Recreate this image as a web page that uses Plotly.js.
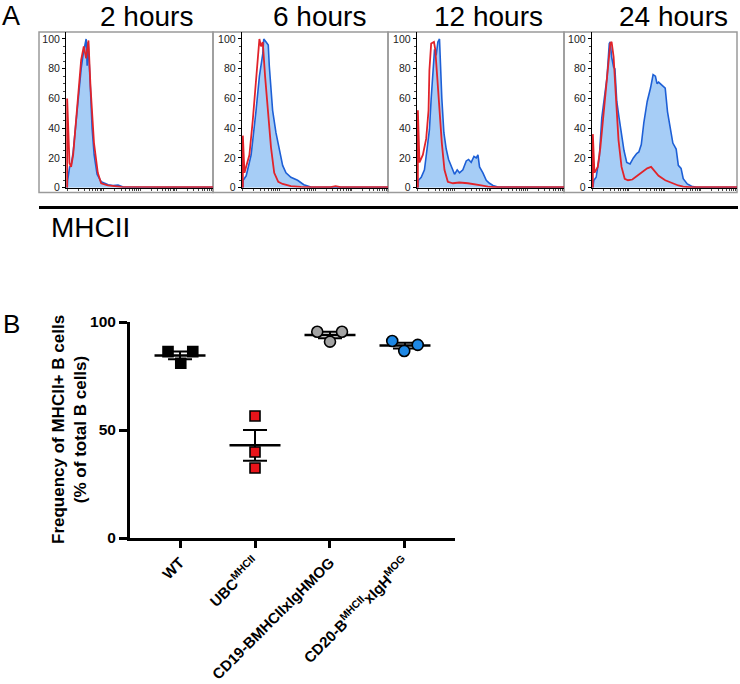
<!DOCTYPE html>
<html>
<head>
<meta charset="utf-8">
<script src="https://cdn.plot.ly/plotly-3.0.1.min.js"></script>
<style>html,body{margin:0;padding:0;background:#fff;}#chart{width:740px;height:684px;}</style>
</head>
<body>
<div id="chart"></div>
<script>
// ---------- Panel A data: MHCII histograms (x = relative fluorescence 0-100, y = % of max) ----------
const hourLabels = ['2 hours', '6 hours', '12 hours', '24 hours'];

const h2BlueX = [0, 0.3, 1.7, 2.7, 4.1, 6.2, 8.2, 9.6, 11.0, 12.3, 13.0, 13.7, 14.4, 15.8, 17.1, 18.5, 20.5, 23.3, 28.1, 31.5, 34.9, 38.4, 100];
const h2BlueY = [0, 5, 14, 15, 24, 45, 70, 80, 90, 97, 100, 82, 98, 70, 40, 22, 9, 4, 2, 1.5, 1.8, 0.5, 0.2];
const h2RedX  = [0, 0, 1.6, 2.7, 4.1, 6.2, 9.6, 11.4, 13.0, 14.6, 16.0, 18.4, 21.0, 23.3, 27.9, 37.0, 100];
const h2RedY  = [0, 60, 16.6, 14, 22, 47, 86, 95, 87, 99, 68, 30, 10, 3, 1.5, 0.5, 0.3];

const h6BlueX = [0, 0.2, 2.3, 5.7, 9.1, 11.4, 13.7, 14.4, 16.0, 17.5, 18.2, 19.4, 20.5, 22.8, 25.1, 27.4, 29.7, 33.1, 37.7, 42.0, 46.8, 100];
const h6BlueY = [0, 5, 8, 22, 52, 75, 90, 100, 98, 96, 82, 66, 52, 37, 26, 15, 10, 7, 5, 2, 0.5, 0.2];
const h6RedX  = [0, 0, 1.1, 4.5, 6.8, 9.1, 11.4, 12.5, 13.7, 15.3, 17.1, 19.4, 21.6, 24.4, 27.4, 33.1, 39.9, 60.5, 63.9, 67.3, 100];
const h6RedY  = [0, 35, 10, 22, 45, 72, 100, 95, 98, 75, 52, 27, 10, 4, 2.5, 1, 0.5, 0.3, 1, 0.3, 0.3];

const h12BlueX = [0, 0.4, 2.3, 4.5, 6.4, 7.9, 9.1, 10.3, 11.4, 12.5, 13.7, 14.8, 15.5, 16.4, 17.8, 19.4, 21.0, 22.8, 25.1, 26.9, 28.5, 30.8, 33.1, 34.7, 36.5, 38.4, 40.0, 41.1, 42.2, 44.5, 46.8, 49.0, 51.4, 54.8, 100];
const h12BlueY = [0, 5, 7, 12, 27, 39, 60, 78, 93, 89, 98, 100, 82, 60, 37, 26, 19, 15, 9, 12, 10, 12, 18, 19, 17, 21, 20, 22, 14, 10, 5, 3, 1.5, 0.5, 0.2];
const h12RedX  = [0, 0, 1.1, 3.4, 5.7, 7.3, 7.9, 9.1, 11.0, 11.9, 13.2, 14.8, 16.4, 18.2, 20.5, 24.0, 28.3, 34.2, 38.6, 43.4, 47.9, 53.6, 100];
const h12RedY  = [0, 52, 17, 22, 33, 52, 79, 97, 98, 93, 75, 52, 30, 12, 4, 3, 3.5, 3, 2.5, 1.5, 0.7, 0.3, 0.3];

const h24BlueX = [0, 0.7, 2.3, 4.5, 6.2, 8.0, 9.8, 11.4, 12.1, 13.0, 14.4, 15.3, 16.6, 18.2, 19.9, 21.6, 23.5, 25.8, 28.1, 30.4, 31.9, 33.6, 35.4, 37.7, 40.0, 41.8, 43.4, 44.5, 45.6, 48.0, 50.2, 51.8, 53.6, 55.5, 57.8, 59.3, 61.2, 62.7, 65.5, 68.5, 71.9, 100];
const h24BlueY = [0, 5, 7, 21, 47, 61, 74, 97, 98, 88, 81, 80, 58, 47, 36, 25, 17, 16, 20, 23, 24, 29, 44, 58, 67, 76, 75, 70, 71, 69, 67, 51, 42, 30, 26, 15, 13, 6, 2.5, 1, 0.3, 0.2];
const h24RedX  = [0, 0, 1.1, 3.4, 5.2, 6.8, 8.4, 10.3, 12.1, 13.0, 14.4, 16.0, 17.8, 19.9, 22.1, 24.4, 27.4, 30.8, 34.2, 37.7, 40.4, 42.2, 45.6, 50.2, 54.8, 59.3, 62.7, 67.3, 100];
const h24RedY  = [0, 36, 10, 14, 27, 43, 61, 83, 97, 98, 88, 61, 32, 14, 6, 5, 5.5, 8, 10.5, 13, 14, 12, 8, 5, 3, 1.5, 0.7, 0.3, 0.3];

const histTicks = [0, 20, 40, 60, 80, 100];

// ---------- Panel B data: frequency of MHCII+ B cells ----------
const groupLabels = ['WT', 'UBC<sup>MHCII</sup>', 'CD19-BMHCIIxIgHMOG', 'CD20-B<sup>MHCII</sup>xIgH<sup>MOG</sup>'];
const wtValues   = [86.3, 86.3, 80.9];
const ubcValues  = [56.5, 39.8, 32.4];
const cd19Values = [95.5, 95.5, 90.9];
const cd20Values = [91.2, 86.6, 89.4];
const wtOffset   = [-0.16, 0.17, 0.01];
const ubcOffset  = [0, 0, 0];
const cd19Offset = [-0.17, 0.16, 0];
const cd20Offset = [-0.17, -0.01, 0.17];
const freqTicks = [0, 50, 100];

// ---------- helpers ----------
const W = 740, H = 684;
const px = v => v / W;
const py = v => 1 - v / H;

const BLUE = '#1d5fd6', FILL = 'rgba(150,196,244,0.85)', RED = '#e1232a';

const histSets = [
  [h2BlueX, h2BlueY, h2RedX, h2RedY],
  [h6BlueX, h6BlueY, h6RedX, h6RedY],
  [h12BlueX, h12BlueY, h12RedX, h12RedY],
  [h24BlueX, h24BlueY, h24RedX, h24RedY]
];
const axisLeft = [66, 241.7, 416.7, 591.7];
const boxEdges = [39, 213, 388, 564, 737];
const titleCenters = [146, 319, 488, 673];

const traces = [];
const layout = {
  width: W, height: H,
  margin: {l: 0, r: 0, t: 0, b: 0},
  paper_bgcolor: '#fff', plot_bgcolor: 'rgba(0,0,0,0)',
  showlegend: false,
  font: {family: 'Liberation Sans, Arial, sans-serif', color: '#000'},
  annotations: [], shapes: []
};

// log-decade style minor ticks for the fluorescence axis
const decadeTicks = [];
for (let d = 0; d < 4; d++) for (let k = 1; k <= 9; k++) decadeTicks.push((d + Math.log10(k)) * 25);

histSets.forEach((s, i) => {
  const n = i + 1;
  const xa = 'x' + (n === 1 ? '' : n), ya = 'y' + (n === 1 ? '' : n);
  traces.push({x: s[0], y: s[1], xaxis: xa, yaxis: ya, type: 'scatter', mode: 'lines',
    line: {color: BLUE, width: 1.6}, fill: 'tozeroy', fillcolor: FILL, hoverinfo: 'skip'});
  traces.push({x: s[2], y: s[3], xaxis: xa, yaxis: ya, type: 'scatter', mode: 'lines',
    line: {color: RED, width: 1.8}, hoverinfo: 'skip'});
  const xk = 'xaxis' + (n === 1 ? '' : n), yk = 'yaxis' + (n === 1 ? '' : n);
  layout[xk] = {domain: [px(axisLeft[i]), px(boxEdges[i + 1])], anchor: ya, range: [-0.8, 100],
    showgrid: false, zeroline: false, showline: true, linecolor: '#000', linewidth: 1,
    tickvals: decadeTicks, ticks: 'outside', ticklen: 2.5, tickwidth: 1, tickcolor: '#444',
    showticklabels: false};
  layout[yk] = {domain: [py(187.7), py(32)], anchor: xa, range: [0, 104.7],
    showgrid: false, zeroline: false, showline: true, linecolor: '#000', linewidth: 1,
    tickvals: histTicks, ticks: 'outside', ticklen: 3, tickwidth: 1, tickcolor: '#000',
    minor: {dtick: 5, ticks: 'outside', ticklen: 2, tickcolor: '#444'},
    tickfont: {size: 10.5, color: '#222'}};
  layout.shapes.push({type: 'rect', xref: 'paper', yref: 'paper',
    x0: px(boxEdges[i]), x1: px(boxEdges[i + 1]), y0: py(192.5), y1: py(32),
    line: {color: '#9a9a9a', width: 1.5}, layer: 'below'});
  layout.annotations.push({text: hourLabels[i], xref: 'paper', yref: 'paper',
    x: px(titleCenters[i]), y: py(0), xanchor: 'center', yanchor: 'top', showarrow: false,
    borderpad: 0, font: {size: 28, color: '#000'}});
});

layout.annotations.push({text: 'A', xref: 'paper', yref: 'paper', x: px(1), y: py(0),
  xanchor: 'left', yanchor: 'top', borderpad: 0, showarrow: false, font: {size: 27}});
layout.annotations.push({text: 'MHCII', xref: 'paper', yref: 'paper', x: px(49), y: py(227),
  xanchor: 'left', yanchor: 'middle', showarrow: false, font: {size: 28}});
layout.annotations.push({text: 'B', xref: 'paper', yref: 'paper', x: px(1), y: py(324),
  xanchor: 'left', yanchor: 'middle', showarrow: false, font: {size: 26}});
layout.shapes.push({type: 'line', xref: 'paper', yref: 'paper', x0: px(39), x1: px(738),
  y0: py(207.5), y1: py(207.5), line: {color: '#000', width: 3}});

// ---------- Panel B ----------
const groups = [
  {vals: wtValues, off: wtOffset, symbol: 'square', color: '#000000'},
  {vals: ubcValues, off: ubcOffset, symbol: 'square', color: '#e8141a'},
  {vals: cd19Values, off: cd19Offset, symbol: 'circle', color: '#a3a3a3'},
  {vals: cd20Values, off: cd20Offset, symbol: 'circle', color: '#1e88e5'}
];
const means = [], sems = [];
groups.forEach((g, i) => {
  const m = g.vals.reduce((a, b) => a + b, 0) / g.vals.length;
  const sd = Math.sqrt(g.vals.reduce((a, b) => a + (b - m) * (b - m), 0) / (g.vals.length - 1));
  means.push(m); sems.push(sd / Math.sqrt(g.vals.length));
  traces.push({x: [i - 0.34, i + 0.34], y: [m, m], xaxis: 'x5', yaxis: 'y5', type: 'scatter',
    mode: 'lines', line: {color: '#000', width: 2.5}, hoverinfo: 'skip'});
});
traces.push({x: [0, 1, 2, 3], y: means, xaxis: 'x5', yaxis: 'y5', type: 'scatter', mode: 'markers',
  marker: {size: 1, color: 'rgba(0,0,0,0)'},
  error_y: {type: 'data', array: sems, visible: true, color: '#000', thickness: 2, width: 12},
  hoverinfo: 'skip'});
groups.forEach((g, i) => {
  traces.push({x: g.off.map(o => i + o), y: g.vals, xaxis: 'x5', yaxis: 'y5', type: 'scatter',
    mode: 'markers', cliponaxis: false,
    marker: {symbol: g.symbol, size: g.symbol === 'square' ? 10 : 11, color: g.color,
      line: {color: '#000', width: 1.6}}, hoverinfo: 'skip'});
});

layout.xaxis5 = {domain: [px(130), px(455)], anchor: 'y5', range: [-0.667, 3.667],
  showgrid: false, zeroline: false, showline: true, linecolor: '#000', linewidth: 3,
  tickvals: [0, 1, 2, 3], ticktext: groupLabels.map(t => '<b>' + t + '</b>'),
  ticks: 'outside', ticklen: 7, tickwidth: 3, tickcolor: '#000', tickangle: -45,
  tickfont: {size: 15, color: '#000'}};
layout.yaxis5 = {domain: [py(538), py(322)], anchor: 'x5', range: [0, 100],
  showgrid: false, zeroline: false, showline: true, linecolor: '#000', linewidth: 3,
  tickvals: freqTicks, ticktext: freqTicks.map(t => '<b>' + t + '</b>'),
  ticks: 'outside', ticklen: 8, tickwidth: 3, tickcolor: '#000',
  tickfont: {size: 15.5, color: '#000'}};
layout.annotations.push({text: '<b>Frequency of MHCII+ B cells</b><br><b>(% of total B cells)</b>',
  xref: 'paper', yref: 'paper', x: px(69), y: py(430), xanchor: 'center', yanchor: 'middle',
  textangle: -90, showarrow: false, font: {size: 17, color: '#000'}});

Plotly.newPlot('chart', traces, layout, {staticPlot: true, displayModeBar: false});
</script>
</body>
</html>
